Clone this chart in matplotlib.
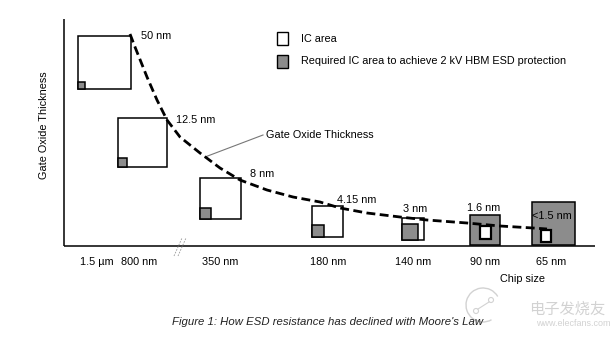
import matplotlib
matplotlib.use("Agg")
import matplotlib.pyplot as plt
from matplotlib.patches import Rectangle, Circle, Arc

plt.rcParams['font.family'] = ['Liberation Sans', 'DejaVu Sans']

# ---- data ----
nodes = ['1.5 µm', '800 nm', '350 nm', '180 nm', '140 nm', '90 nm', '65 nm']
oxide_labels = ['50 nm', '12.5 nm', '8 nm', '4.15 nm', '3 nm', '1.6 nm', '<1.5 nm']
# IC area box side (px-like units) and ESD area box side
ic_side = [53, 49, 41, 31, 22, 11, 10]
esd_side = [7, 9, 11, 12, 16, 30, 43]

# curve of gate oxide thickness (diagram coordinates)
curve_x = [130, 135, 147, 157, 167, 180, 200, 220, 240, 267, 293, 320, 340, 367, 400, 427, 467, 500, 533, 547]
curve_y = [34, 47, 77, 100, 120, 137, 153, 168, 180, 190, 197, 202, 208, 213, 217, 220, 223, 226, 228, 229]

# ---- layout (diagram coordinates) ----
tick_x = [97, 139, 220, 328, 413, 485, 551]
box_left = [78, 118, 200, 312, 402, 470, 532]
box_bottom = [89, 167, 219, 237, 240, 245, 245]
inner_off = [0, 0, 0, 0, 0, 6, 3]
inner_dx = [0, 0, 0, 0, 0, 0, -8]
oxide_lbl_pos = [(141, 36), (176, 120), (250, 174), (337, 200), (403, 209), (467, 208), (532, 216)]

fig = plt.figure(figsize=(6.11, 3.39), dpi=100)
ax = fig.add_axes([0, 0, 1, 1])
ax.set_xlim(0, 611)
ax.set_ylim(339, 0)
ax.axis('off')

gray = '#8c8c8c'
fs = 7.8

# axes lines
ax.plot([64, 64], [19, 246], color='black', lw=1.1, solid_capstyle='butt')
ax.plot([64, 595], [246, 246], color='black', lw=1.1, solid_capstyle='butt')
# axis break marks
for dx in (-2, 2):
    ax.plot([176 + dx, 184 + dx], [256, 238], color='#999999', lw=0.6, ls=(0, (2, 1.5)))

# boxes
for i in range(len(nodes)):
    ic = ic_side[i]
    es = esd_side[i]
    left = box_left[i]
    bot = box_bottom[i]
    if es <= ic:
        ax.add_patch(Rectangle((left, bot), ic, -ic, facecolor='white', edgecolor='black', lw=1.1, zorder=2))
        ax.add_patch(Rectangle((left, bot), es, -es, facecolor=gray, edgecolor='black', lw=1.1, zorder=3))
    else:
        ax.add_patch(Rectangle((left, bot), es, -es, facecolor=gray, edgecolor='black', lw=1.1, zorder=2))
        cx = left + es / 2 - ic / 2 + inner_dx[i]
        ax.add_patch(Rectangle((cx, bot - inner_off[i]), ic, -ic - 2, facecolor='white',
                               edgecolor='black', lw=1.6, zorder=5))

# dashed curve
ax.plot(curve_x, curve_y, color='black', lw=2.0, ls=(0, (3.2, 1.6)), zorder=4,
        solid_joinstyle='round')

# oxide labels
for (x, y), t in zip(oxide_lbl_pos, oxide_labels):
    ax.text(x, y, t, fontsize=fs, ha='left', va='center', zorder=6)

# tick labels
for x, t in zip(tick_x, nodes):
    ax.text(x, 262, t, fontsize=fs, ha='center', va='center')
ax.text(523, 279, 'Chip size', fontsize=fs, ha='center', va='center')

# y label
ax.text(44, 125, 'Gate Oxide Thickness', fontsize=fs, rotation=90, ha='center', va='center')

# annotation
ax.plot([263, 205], [135, 157], color='#777777', lw=0.8)
ax.text(266, 135, 'Gate Oxide Thickness', fontsize=fs, ha='left', va='center')

# legend
ax.add_patch(Rectangle((277, 32), 11, 13, facecolor='white', edgecolor='black', lw=1.0))
ax.add_patch(Rectangle((277, 55), 11, 13, facecolor=gray, edgecolor='black', lw=1.0))
ax.text(301, 39, 'IC area', fontsize=fs, ha='left', va='center')
ax.text(301, 61, 'Required IC area to achieve 2 kV HBM ESD protection', fontsize=fs, ha='left', va='center')

# caption
ax.text(328, 322, "Figure 1: How ESD resistance has declined with Moore's Law", fontsize=8.2,
        style='italic', ha='center', va='center', color='#222222')

# watermark
wm = '#d2d2d2'
ax.add_patch(Arc((483, 305), 34, 34, theta1=60, theta2=330, color=wm, lw=1.0))
ax.add_patch(Circle((476, 311), 2.5, fill=False, edgecolor=wm, lw=0.8))
ax.add_patch(Circle((491, 300), 2.5, fill=False, edgecolor=wm, lw=0.8))
ax.plot([478, 489], [309, 302], color=wm, lw=0.8)
ax.text(567, 309, '电子发烧友', fontsize=11, ha='center', va='center', color=wm, style='italic',
        family=['Noto Sans CJK SC', 'DejaVu Sans'])
ax.text(573, 323, 'www.elecfans.com', fontsize=6.5, ha='center', va='center', color=wm)

fig.savefig('out.png', dpi=100)
